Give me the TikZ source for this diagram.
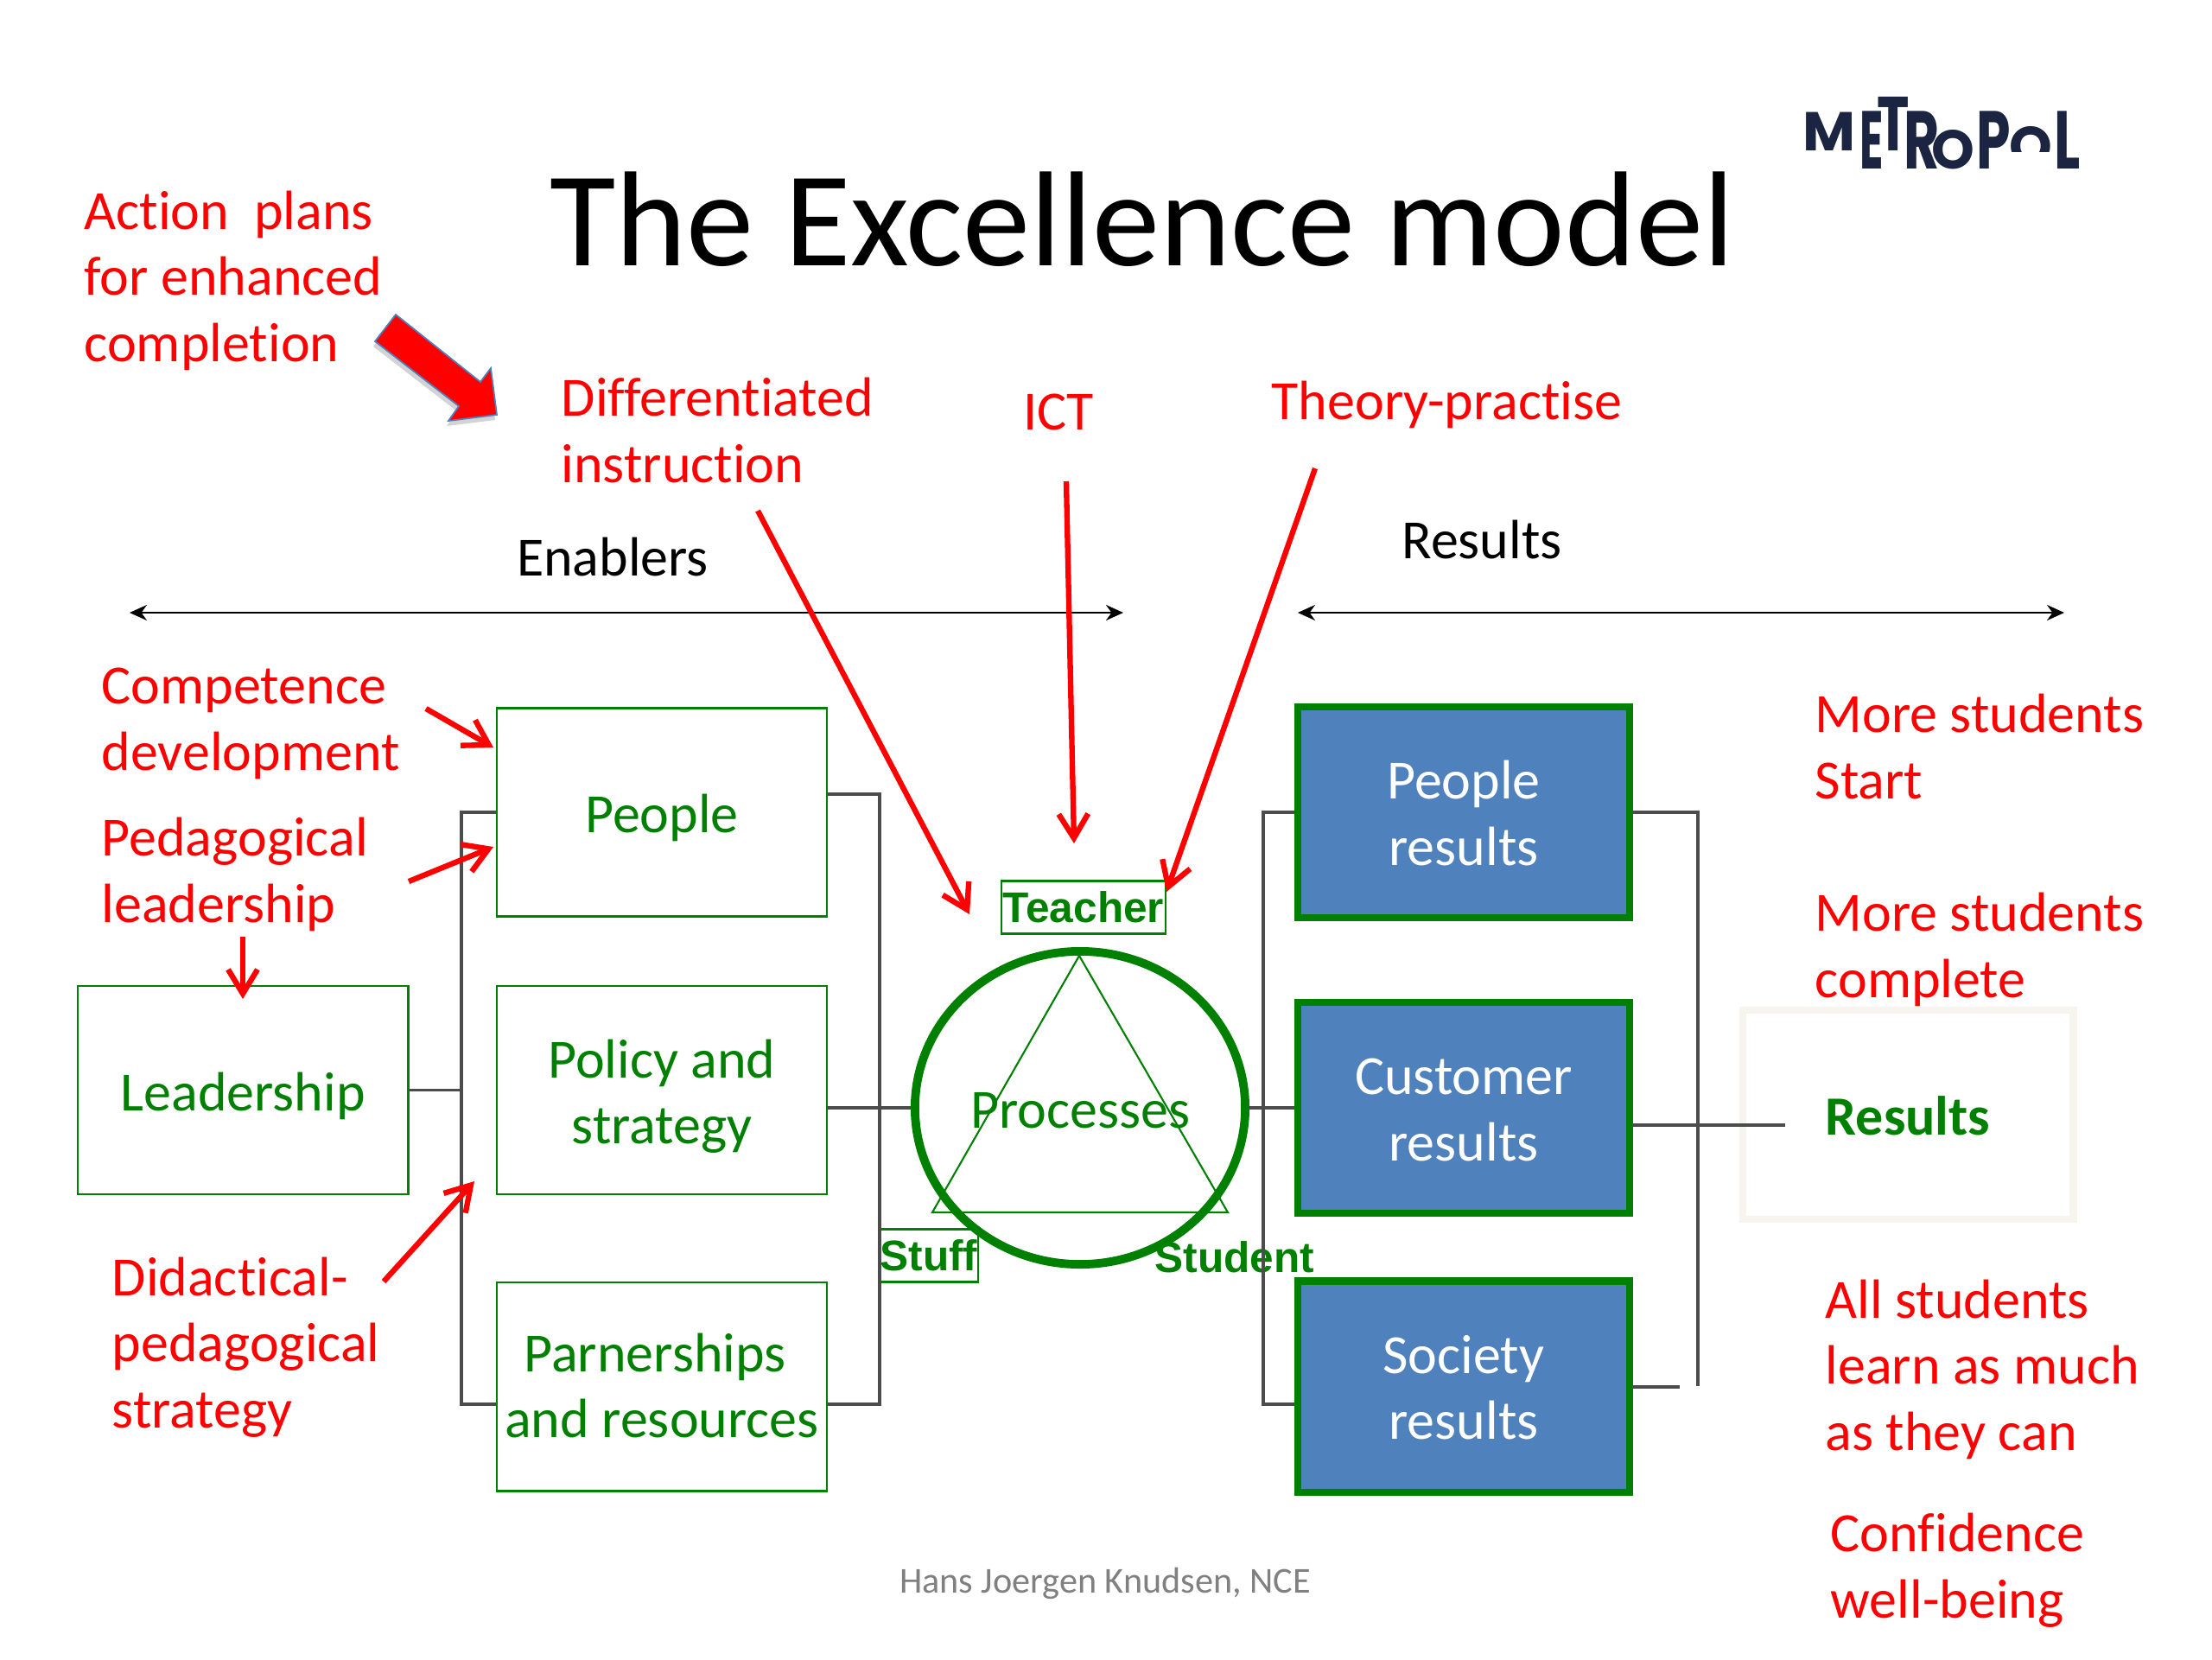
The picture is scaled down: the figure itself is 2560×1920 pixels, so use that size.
\documentclass[tikz,border=0pt]{standalone}
\usepackage{fontspec}
\usepackage{xcolor}
\setmainfont{Carlito}[Ligatures=CommonOff]
\newfontfamily\tagfont{Liberation Sans}
\newfontfamily\logofont{Poppins}
\definecolor{modelgreen}{RGB}{0,128,0}
\definecolor{modelblue}{RGB}{79,129,189}
\definecolor{logoblue}{RGB}{27,36,64}
\definecolor{ghost}{RGB}{245,245,238}
\usetikzlibrary{positioning, arrows.meta, shapes.geometric, shadows}

\begin{document}
\begin{tikzpicture}[
  x = 0.01cm, y = -0.01cm,
  struts/.style = {execute at begin node={\rule{0pt}{#1}}, execute at end node={\rule[-3.6pt]{0pt}{3.6pt}}},
  struts/.default = 17pt,
  enabler/.style = {struts, draw=modelgreen, line width=0.7pt, text=modelgreen, align=center, minimum width=3.82cm, minimum height=2.41cm, inner sep=0pt, font=\fontsize{18.2}{21.8}\selectfont},
  outcome/.style = {struts=38.3pt, draw=modelgreen, line width=2.4pt, fill=modelblue, text=white, align=center, minimum width=3.84cm, minimum height=2.44cm, inner sep=0pt, font=\fontsize{18.2}{21.8}\selectfont},
  remark/.style = {execute at begin node=\strut, execute at end node=\strut, text=red, align=left, anchor=west, inner sep=0pt, font=\fontsize{18.2}{21.8}\selectfont},
  heading/.style = {text=black, inner sep=0pt, font=\fontsize{18.2}{21.8}\selectfont},
  tagbox/.style = {draw=modelgreen, line width=0.6pt, text=modelgreen, inner sep=0pt, minimum height=0.61cm, font=\tagfont\fontsize{14.1}{16}\selectfont\bfseries},
  logo/.style = {text=logoblue, anchor=south west, inner sep=0pt, transform shape, font=\logofont\fontsize{18}{20}\selectfont\bfseries},
  rail/.style = {draw=black!70, line width=0.9pt},
  span/.style = {{Stealth[length=2mm,width=1.8mm]}-{Stealth[length=2mm,width=1.8mm]}, line width=0.8pt},
  pointer/.style = {-{Straight Barb[length=2.8mm,width=3.4mm]}, draw=red, line width=1.8pt},
]
\useasboundingbox (0,0) rectangle (2560,1920);
\node[inner sep=0pt, font=\fontsize{44.5}{50}\selectfont] (title) at (1322,254) {The Excellence model};

% logo
\node[logo, xscale=1.05] (lm) at (2086,175) {M};
\node[logo, xscale=0.8, yscale=1.5] (le) at (2152,197) {E};
\node[logo, yscale=1.4] (lt) at (2172,175) {T};
\node[logo, yscale=1.5] (lr) at (2203,197) {R};
\node[logo] (lo) at (2235,197) {O};
\node[logo, yscale=1.5] (lp) at (2287,197) {P};
\begin{scope}
\clip (2320,130) rectangle (2380,175);
\node[logo] (lc) at (2325,193) {O};
\end{scope}
\node[logo, yscale=1.5] (ll) at (2377,197) {L};

% boxes
\node[enabler] (people) at (766,940) {People};
\node[enabler, struts=39pt, below=0.78cm of people] (policy) {Policy and\\strategy};
\node[enabler, struts=37.2pt, below=0.995cm of policy] (partners) {Parnerships\kern4.5pt\\and resources};
\node[enabler, left=1.00cm of policy] (leadership) {Leadership};
\node[outcome] (presults) at (1694,940) {People\\results};
\node[outcome, below=0.894cm of presults] (cresults) {Customer\\results};
\node[outcome, below=0.70cm of cresults] (sresults) {Society\\results};
\node[struts, draw=ghost, line width=2.5pt, text=modelgreen, minimum width=3.82cm, minimum height=2.42cm, inner sep=0pt, font=\fontsize{18.2}{21.8}\selectfont\bfseries] (results) at (2208,1290) {Results};

% the process circle
\draw[draw=modelgreen, line width=0.6pt] (1249,1106) -- (1421,1403) -- (1079,1403) -- cycle;
\node[struts, ellipse, draw=modelgreen, line width=2.8pt, text=modelgreen, minimum width=3.82cm, minimum height=3.62cm, inner sep=0pt, font=\fontsize{18.2}{21.8}\selectfont] (processes) at (1250,1282) {Processes};
\node[tagbox, minimum width=1.9cm] (teacher) at (1254,1050) {Teacher};
\node[tagbox, minimum width=1.14cm] (stuff) at (1075,1453) {Stuff};
\node[text=modelgreen, inner sep=0pt, font=\tagfont\fontsize{14.1}{16}\selectfont\bfseries] (student) at (1429,1455) {Student};

% rails
\coordinate (lrail) at (534,1262);
\coordinate (mrail) at (1018,1282);
\coordinate (rrail) at (1462,1282);
\coordinate (frailend) at (1965,1604);
\coordinate (resultsend) at (2066,1302);
\coordinate (sstub) at (1944,1605);
\coordinate (ltail) at (534,1625);
\coordinate (mtop) at (1018,919);
\coordinate (mtail) at (1018,1625);
\coordinate (rtail) at (1462,1625);
\draw[rail] (leadership.east) -- (leadership.east -| lrail);
\draw[rail] (people.west) -| (lrail) |- (ltail -| partners.west);
\draw[rail] (mtop -| people.east) -| (mrail) |- (mtail -| partners.east);
\draw[rail] (processes.west -| policy.east) -- (processes.west);
\draw[rail] (processes.east) -- (processes.east -| cresults.west);
\draw[rail] (presults.west) -| (rrail) |- (rtail -| sresults.west);
\draw[rail] (presults.east) -| (frailend);
\draw[rail] (resultsend -| cresults.east) -- (resultsend);
\draw[rail] (sstub -| sresults.east) -- (sstub);

% headings
\node[heading] (enablers) at (709,644) {Enablers};
\node[heading] (resultshead) at (1715,624) {Results};
\coordinate (ea) at (150,709); \coordinate (eb) at (1300,709);
\coordinate (ra) at (1502,709); \coordinate (rb) at (2389,709);
\draw[span] (ea) -- (eb);
\draw[span] (ra) -- (rb);

% red remarks
\node[remark] (plans) at (97,331) {Action\ \ plans\\for enhanced\\completion};
\node[remark] (diff) at (649,509) {Differentiated\\instruction};
\node[remark, anchor=center] (ict) at (1225,482) {ICT};
\node[remark] (theory) at (1471,470) {Theory-practise};
\node[remark] (competence) at (117,844) {Competence\\development};
\node[remark] (pedagogical) at (117,1018) {Pedagogical\\leadership};
\node[remark] (didactical) at (129,1565) {Didactical-\\pedagogical\\strategy};
\node[remark] (start) at (2100,875) {More students\\Start};
\node[remark] (complete) at (2100,1105) {More students\\complete};
\node[remark] (learn) at (2112,1591) {All students\\learn as much\\as they can};
\node[remark] (wellbeing) at (2118,1823) {Confidence\\well-being};
\node[text=black!50, inner sep=0pt, font=\fontsize{12}{15}\selectfont] (footer) at (1279,1832) {Hans Joergen Knudsen, NCE};

% red arrows
\coordinate (da) at (877,591); \coordinate (db) at (1122,1058);
\coordinate (ia) at (1234,557); \coordinate (ib) at (1243,976);
\coordinate (ta) at (1522,542); \coordinate (tb) at (1350,1032);
\coordinate (ca) at (493,820); \coordinate (cb) at (571,865);
\coordinate (pa) at (473,1020); \coordinate (pb) at (571,980);
\coordinate (la) at (281,1084); \coordinate (lb) at (281,1156);
\coordinate (sa) at (444,1483); \coordinate (sb) at (549,1367);
\draw[pointer] (da) -- (db);
\draw[pointer] (ia) -- (ib);
\draw[pointer] (ta) -- (tb);
\draw[pointer] (ca) -- (cb);
\draw[pointer] (pa) -- (pb);
\draw[pointer] (la) -- (lb);
\draw[pointer] (sa) -- (sb);
\draw[fill=red, draw=modelblue, line width=0.5pt, drop shadow={shadow xshift=-0.02cm, shadow yshift=-0.06cm, opacity=0.35}] (458,364) -- (556,442) -- (568,426) -- (575,480) -- (519,487) -- (531,470) -- (434,395) -- cycle;
\end{tikzpicture}
\end{document}
